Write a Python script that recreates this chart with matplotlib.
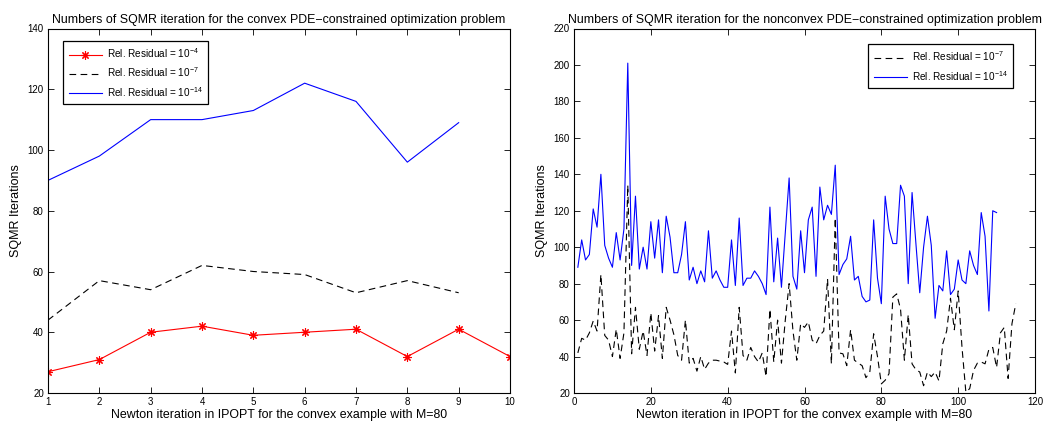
import matplotlib
matplotlib.use("Agg")
import matplotlib.pyplot as plt
import numpy as np

plt.rcParams['font.family'] = ['Liberation Sans', 'DejaVu Sans']
plt.rcParams['mathtext.fontset'] = 'custom'
plt.rcParams['mathtext.rm'] = 'Liberation Sans'
plt.rcParams['mathtext.it'] = 'Liberation Sans'

# ---- Left panel data (convex) ----
left_x = [1, 2, 3, 4, 5, 6, 7, 8, 9, 10]
left_res4 = [27, 31, 40, 42, 39, 40, 41, 32, 41, 32]
left_x9 = [1, 2, 3, 4, 5, 6, 7, 8, 9]
left_res7 = [44, 57, 54, 62, 60, 59, 53, 57, 53]
left_res14 = [90, 98, 110, 110, 113, 122, 116, 96, 109]

# ---- Right panel data (nonconvex) ----
right_res7 = [42, 50, 49, 53, 59.5, 54, 85, 51.6, 49, 40,
              55, 39, 53, 134, 41.5, 67, 44, 54, 40.6, 64,
              43, 62.5, 39, 67, 60, 52, 40.6, 38, 60, 36.4,
              39, 32, 40, 33, 36.4, 38, 38, 37.5, 37, 35.7,
              54, 31, 67, 40.6, 38, 45, 40, 37, 42, 29,
              66, 37, 60, 36.4, 60, 80, 54, 38, 58, 56,
              59, 49, 47, 51.6, 54, 82.6, 36, 116, 42, 41.5,
              35, 54.7, 38, 36.4, 35, 28.4, 31.5, 52.5, 40, 25,
              27, 30.6, 72.6, 74.4, 66, 38, 63, 36, 32.8, 31.5,
              24, 31.5, 29, 31.5, 26.6, 47, 54, 72, 54.7, 76,
              45, 20.5, 22.4, 32.4, 36.4, 37, 36, 44, 45, 34,
              53, 56, 28, 58, 69]
right_res14 = [89, 104, 93, 96, 121, 111, 140, 101, 94, 89,
               108, 93, 110, 201, 90, 128, 88, 100, 88, 114,
               94, 115, 86, 117, 105.5, 86, 86, 96, 114, 82,
               89, 80, 87, 81, 109, 83, 87, 82, 78, 78,
               104, 79, 116, 79, 83, 83, 87, 84, 80, 74,
               122, 81, 105, 78, 108, 138, 84, 77, 109, 86,
               115, 122, 84, 133, 115, 123, 118, 145, 85, 90.5,
               93.6, 106, 82, 84, 73, 70, 71, 115, 83, 69,
               128, 110, 102, 102, 134, 128, 80, 130, 102, 75,
               100, 117, 101, 61, 79, 76, 98, 74, 77, 93,
               82, 80, 98, 90, 85, 119, 106, 65, 120, 119]
right_x7 = np.arange(1, len(right_res7) + 1)
right_x14 = np.arange(1, len(right_res14) + 1)

xlabel = 'Newton iteration in IPOPT for the convex example with M=80'
ylabel = 'SQMR Iterations'
lab4 = r'Rel. Residual = 10$^{-4}$'
lab7 = r'Rel. Residual = 10$^{-7}$'
lab14 = r'Rel. Residual = 10$^{-14}$'

fig = plt.figure(figsize=(10.44, 4.21), dpi=100)
axL = fig.add_axes([48/1044, (421-393)/421, 462/1044, 364.5/421])
axR = fig.add_axes([574/1044, (421-393)/421, 461/1044, 364.5/421])

lw = 0.8
axL.plot(left_x, left_res4, color='red', lw=lw, marker=(8, 2, 0), markersize=6,
         markeredgewidth=0.8, label=lab4)
axL.plot(left_x9, left_res7, color='black', lw=lw, ls=(0, (6, 4)), label=lab7)
axL.plot(left_x9, left_res14, color='blue', lw=lw, label=lab14)
axL.set_xlim(1, 10)
axL.set_ylim(20, 140)
axL.set_xticks(range(1, 11))
axL.set_yticks(range(20, 141, 20))
axL.set_title('Numbers of SQMR iteration for the convex PDE\u2212constrained optimization problem',
              fontsize=8.9, pad=4)

axR.plot(right_x7, right_res7, color='black', lw=lw, ls=(0, (6, 4)), label=lab7)
axR.plot(right_x14, right_res14, color='blue', lw=lw, label=lab14)
axR.set_xlim(0, 120)
axR.set_ylim(20, 220)
axR.set_xticks(range(0, 121, 20))
axR.set_yticks(range(20, 221, 20))
axR.set_title('Numbers of SQMR iteration for the nonconvex PDE\u2212constrained optimization problem',
              fontsize=8.9, pad=4)

for ax in (axL, axR):
    ax.set_xlabel(xlabel, fontsize=8.9, labelpad=1)
    ax.set_ylabel(ylabel, fontsize=9, labelpad=4)
    ax.tick_params(direction='in', top=True, right=True, labelsize=7,
                   length=4, width=0.6, pad=3)
    for s in ax.spines.values():
        s.set_linewidth(0.8)
    leg = ax.legend(loc='upper left' if ax is axL else 'upper right',
                    fontsize=7.2, fancybox=False, edgecolor='black',
                    framealpha=1, handlelength=3.3, handletextpad=0.5,
                    borderpad=0.55, labelspacing=0.55, borderaxespad=0,
                    bbox_to_anchor=(0.0325, 0.966) if ax is axL else (0.952, 0.957))
    leg.get_frame().set_linewidth(0.9)

fig.savefig('out.png', dpi=100)
